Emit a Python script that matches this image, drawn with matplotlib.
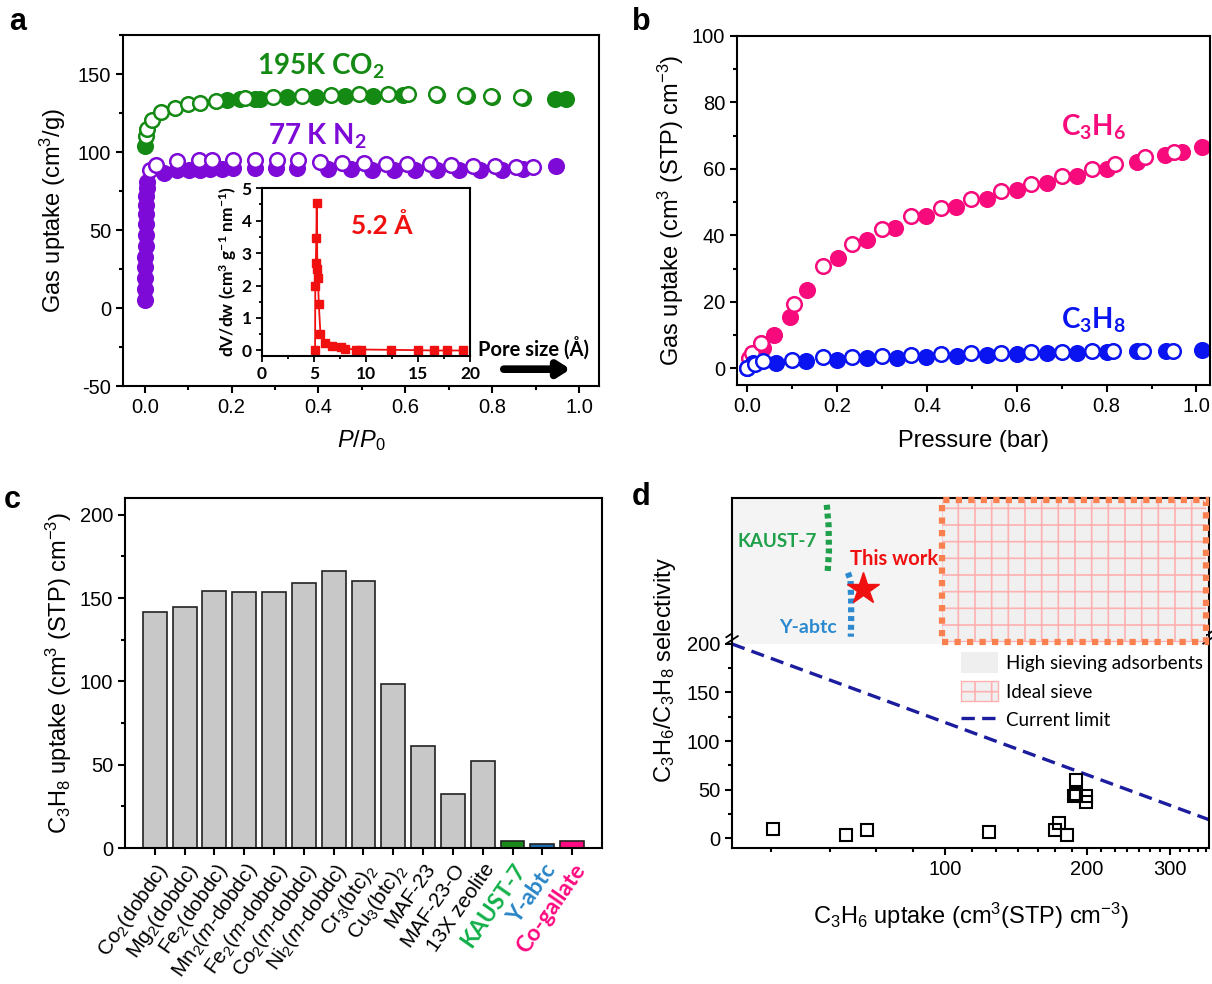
import numpy as np
import matplotlib
matplotlib.use('Agg')
import matplotlib.pyplot as plt
from matplotlib.patches import Rectangle, Patch
from matplotlib.lines import Line2D
from matplotlib.ticker import MultipleLocator, FixedLocator, NullFormatter, FixedFormatter

plt.rcParams['font.family'] = ['Liberation Sans', 'DejaVu Sans']
plt.rcParams['mathtext.fontset'] = 'custom'
plt.rcParams['mathtext.rm'] = 'Liberation Sans'
plt.rcParams['mathtext.it'] = 'Liberation Sans:italic'
plt.rcParams['mathtext.bf'] = 'Lato:bold'
plt.rcParams['axes.linewidth'] = 1.5
plt.rcParams['axes.unicode_minus'] = False
plt.rcParams['hatch.linewidth'] = 1.2
CAL = 'Lato'

# ---- panel a: 195 K CO2 / 77 K N2 isotherms ----
co2_ads_x = [0.0, 0.19, 0.219, 0.253, 0.266, 0.328, 0.395, 0.462, 0.526, 0.595,
             0.673, 0.742, 0.80, 0.871, 0.944, 0.969]
co2_ads_y = [104, 133.3, 133.7, 134, 134, 135, 135, 135.8, 136, 136.7,
             136.3, 135.8, 135.4, 134.6, 134, 134]
co2_des_x = [0.002, 0.006, 0.017, 0.037, 0.069, 0.10, 0.128, 0.164, 0.231, 0.295,
             0.362, 0.428, 0.493, 0.56, 0.607, 0.671, 0.738, 0.798, 0.867]
co2_des_y = [110, 115, 120.4, 125.8, 128, 130.5, 131.6, 132.9, 134.8, 135.4,
             136, 136.7, 137, 137.2, 137.2, 137, 136.5, 135.8, 135]
n2_ads_x = [0.0, 0.0005, 0.001, 0.0013, 0.0016, 0.002, 0.0022, 0.0025, 0.003, 0.0035,
            0.004, 0.005, 0.006, 0.044, 0.075, 0.101, 0.128, 0.15, 0.177, 0.204,
            0.253, 0.302, 0.351, 0.422, 0.475, 0.524, 0.573, 0.622, 0.673, 0.724,
            0.773, 0.822, 0.871, 0.947]
n2_ads_y = [5, 12, 19, 26, 33, 40, 47, 54, 60, 66,
            72, 77, 81, 86.8, 88.7, 88.3, 88.7, 89.4, 89.4, 89.8,
            89.8, 89.8, 89.8, 88.9, 88.9, 88.7, 88.7, 88.7, 88.7, 88.7,
            88.7, 88.3, 89.4, 91]
n2_des_x = [0.011, 0.026, 0.075, 0.124, 0.155, 0.204, 0.253, 0.304, 0.353, 0.404,
            0.455, 0.504, 0.555, 0.604, 0.656, 0.705, 0.755, 0.806, 0.855, 0.893]
n2_des_y = [88.3, 91.5, 94, 94.7, 94.7, 94.7, 94.7, 94.7, 94.7, 93.6,
            93.2, 93, 92.6, 92.6, 92.1, 91.5, 91, 90.9, 90.4, 90.4]

psd_x = [5.10, 5.12, 5.17, 5.22, 5.26, 5.32, 5.38, 5.46, 5.62, 6.05,
         6.75, 7.6, 8.0, 9.0, 9.5, 12.4, 15.0, 16.5, 17.8, 19.3]
psd_y = [0.0, 2.0, 2.68, 3.45, 4.55, 2.52, 2.22, 1.42, 0.51, 0.24,
         0.13, 0.11, 0.06, 0.03, 0.03, 0.02, 0.01, 0.0, 0.0, 0.0]

# ---- panel b: C3H6 / C3H8 isotherms ----
c3h6_ads_x = [0.034, 0.06, 0.095, 0.133, 0.202, 0.267, 0.329, 0.398, 0.464, 0.533,
              0.60, 0.667, 0.733, 0.80, 0.867, 0.931, 0.967, 1.013]
c3h6_ads_y = [6, 10, 15.5, 23.5, 33.3, 38.5, 42.3, 45.8, 48.5, 50.8,
              53.5, 55.7, 57.8, 60, 62, 64, 65, 66.5]
c3h6_des_x = [0.004, 0.011, 0.03, 0.103, 0.168, 0.232, 0.299, 0.365, 0.432, 0.499,
              0.565, 0.632, 0.701, 0.768, 0.819, 0.886, 0.95]
c3h6_des_y = [3, 4.7, 7.5, 19.5, 30.7, 37.5, 42, 45.7, 48.3, 50.9,
              53.2, 55.3, 57.7, 59.8, 61.3, 63.5, 65]
c3h8_ads_x = [0.0, 0.013, 0.064, 0.13, 0.20, 0.267, 0.333, 0.398, 0.466, 0.533,
              0.60, 0.667, 0.733, 0.80, 0.867, 0.933, 1.013]
c3h8_ads_y = [0, 1.5, 1.7, 2.3, 2.5, 3.0, 3.2, 3.5, 3.8, 4.0,
              4.3, 4.5, 4.7, 4.9, 5.1, 5.2, 5.5]
c3h8_des_x = [0.0, 0.017, 0.034, 0.10, 0.168, 0.232, 0.299, 0.365, 0.432, 0.499,
              0.565, 0.632, 0.701, 0.768, 0.815, 0.882, 0.948]
c3h8_des_y = [0.2, 1.2, 2.2, 2.5, 3.3, 3.5, 3.8, 4.0, 4.3, 4.5,
              4.7, 4.9, 5.0, 5.1, 5.2, 5.3, 5.3]

# ---- panel c: C3H8 uptake of materials ----
materials = ['Co$_2$(dobdc)', 'Mg$_2$(dobdc)', 'Fe$_2$(dobdc)', 'Mn$_2$($m$-dobdc)',
             'Fe$_2$($m$-dobdc)', 'Co$_2$($m$-dobdc)', 'Ni$_2$($m$-dobdc)',
             'Cr$_3$(btc)$_2$', 'Cu$_3$(btc)$_2$', 'MAF-23', 'MAF-23-O', '13X zeolite',
             'KAUST-7', 'Y-abtc', 'Co-gallate']
c3h8_uptake = [141.5, 144.5, 154, 153.5, 153.5, 159, 166.5, 160, 98.5, 61.5,
               32.5, 52.5, 4, 2.5, 4]
bar_colors = ['#c8c8c8'] * 12 + ['#1b8a1b', '#1f6fb2', '#ff0a80']
label_colors = ['black'] * 12 + ['#12b04a', '#2a86c8', '#ff0a80']

# ---- panel d: selectivity vs uptake ----
lit_uptake = [43.4, 61.9, 68.6, 123.8, 171, 174.3, 181, 189.8, 187.3, 189.8, 199, 199]
lit_select = [9, 3.5, 8.5, 6, 8, 15, 3.5, 60, 43, 45, 43, 37]
limit_x = [35.5, 362]
limit_y = [200, 18.9]
kaust_x = [56.3, 56.8, 56.9, 56.5]
kaust_y = [0.95, 0.80, 0.60, 0.44]
yabtc_x = [62.4, 63.2, 63.4, 63.4, 63.3]
yabtc_y = [0.45, 0.40, 0.25, 0.10, -0.02]
this_x = [67.3]
this_y = [0.33]

green = '#148a14'
purple = '#7d0ad6'
pink = '#f70a7c'
blue = '#0a14f0'

fig = plt.figure(figsize=(12.12, 9.84), dpi=100)


def style(ax):
    ax.tick_params(which='both', direction='out', top=False, right=False,
                   labelsize=14.5, width=1.5)
    ax.tick_params(which='major', length=5)
    ax.tick_params(which='minor', length=3)


# ---------------- a ----------------
axa = fig.add_axes([0.1015, 0.6077, 0.3927, 0.3567])
ms = 10.5
axa.plot(co2_ads_x, co2_ads_y, 'o', color=green, ms=ms, mec=green, mew=1.8)
axa.plot(co2_des_x, co2_des_y, 'o', mfc='white', mec=green, ms=ms, mew=1.8)
axa.plot(n2_ads_x, n2_ads_y, 'o', color=purple, ms=ms, mec=purple, mew=1.8)
axa.plot(n2_des_x, n2_des_y, 'o', mfc='white', mec=purple, ms=ms, mew=1.8)
axa.set_xlim(-0.05, 1.046)
axa.set_ylim(-50, 175)
axa.xaxis.set_major_locator(MultipleLocator(0.2))
axa.xaxis.set_minor_locator(MultipleLocator(0.1))
axa.yaxis.set_major_locator(MultipleLocator(50))
axa.yaxis.set_minor_locator(MultipleLocator(25))
style(axa)
axa.set_xlabel(r'$\mathit{P/P_0}$', fontsize=17, labelpad=8)
axa.set_ylabel('Gas uptake (cm$^3$/g)', fontsize=17, labelpad=7)
axa.text(0.405, 155, r'195K CO$_\mathbf{2}$', color=green, fontsize=20,
         fontfamily=CAL, fontweight='bold', ha='center', va='center')
axa.text(0.397, 110, r'77 K N$_\mathbf{2}$', color=purple, fontsize=20,
         fontfamily=CAL, fontweight='bold', ha='center', va='center')
axa.text(0.746, 0.108, 'Pore size (Å)', transform=axa.transAxes, fontsize=14.5,
         fontfamily=CAL, fontweight='bold', ha='left', va='center')
axa.annotate('', xy=(0.94, 0.048), xytext=(0.80, 0.048), xycoords='axes fraction',
             arrowprops=dict(arrowstyle='-|>,head_width=0.45,head_length=0.7',
                             color='black', lw=5.5, shrinkA=0, shrinkB=0))

# inset
axi = fig.add_axes([0.2162, 0.6382, 0.1716, 0.1707])
axi.plot(psd_x, psd_y, '-s', color='#f01010', ms=5.5, lw=1.3)
axi.set_xlim(0, 20)
axi.set_ylim(-0.17, 5)
axi.xaxis.set_major_locator(MultipleLocator(5))
axi.xaxis.set_minor_locator(MultipleLocator(2.5))
axi.yaxis.set_major_locator(MultipleLocator(1))
axi.yaxis.set_minor_locator(MultipleLocator(0.5))
axi.tick_params(which='both', direction='out', top=False, right=False, width=1.3)
axi.tick_params(which='major', length=4)
axi.tick_params(which='minor', length=2.5)
for lab in axi.get_xticklabels() + axi.get_yticklabels():
    lab.set_fontfamily(CAL)
    lab.set_fontweight('bold')
    lab.set_fontsize(12.5)
axi.set_ylabel(r'dV/dw (cm$^\mathbf{3}$ g$^\mathbf{-1}$ nm$^\mathbf{-1}$)',
               fontfamily=CAL, fontweight='bold', fontsize=12.5, labelpad=2)
axi.text(11.5, 3.85, '5.2 Å', color='#f01010', fontsize=19, fontfamily=CAL,
         fontweight='bold', ha='center', va='center')

# ---------------- b ----------------
axb = fig.add_axes([0.6081, 0.6087, 0.3902, 0.355])
axb.plot(c3h6_ads_x, c3h6_ads_y, 'o', color=pink, ms=ms, mec=pink, mew=1.8)
axb.plot(c3h6_des_x, c3h6_des_y, 'o', mfc='white', mec=pink, ms=ms, mew=1.8)
axb.plot(c3h8_ads_x, c3h8_ads_y, 'o', color=blue, ms=ms, mec=blue, mew=1.8)
axb.plot(c3h8_des_x, c3h8_des_y, 'o', mfc='white', mec=blue, ms=ms, mew=1.8)
axb.set_xlim(-0.023, 1.03)
axb.set_ylim(-5, 100)
axb.xaxis.set_major_locator(MultipleLocator(0.2))
axb.xaxis.set_minor_locator(MultipleLocator(0.1))
axb.yaxis.set_major_locator(MultipleLocator(20))
axb.yaxis.set_minor_locator(MultipleLocator(10))
style(axb)
axb.set_xlabel('Pressure (bar)', fontsize=17, labelpad=10)
axb.set_ylabel('Gas uptake (cm$^3$ (STP) cm$^{-3}$)', fontsize=17, labelpad=4)
axb.text(0.77, 72.5, r'C$_\mathbf{3}$H$_\mathbf{6}$', color=pink, fontsize=20,
         fontfamily=CAL, fontweight='bold', ha='center', va='center')
axb.text(0.77, 14.5, r'C$_\mathbf{3}$H$_\mathbf{8}$', color=blue, fontsize=20,
         fontfamily=CAL, fontweight='bold', ha='center', va='center')

# ---------------- c ----------------
axc = fig.add_axes([0.1031, 0.1382, 0.3936, 0.3557])
pos = np.arange(len(materials))
axc.bar(pos, c3h8_uptake, width=0.8, color=bar_colors, edgecolor='#222222', lw=1.2)
axc.set_xlim(-1, len(materials))
axc.set_ylim(0, 210)
axc.yaxis.set_major_locator(MultipleLocator(50))
axc.yaxis.set_minor_locator(MultipleLocator(25))
style(axc)
axc.set_xticks(pos)
axc.set_xticklabels(materials, rotation=55, ha='right', rotation_mode='anchor',
                    fontsize=15)
for lab, col in zip(axc.get_xticklabels(), label_colors):
    lab.set_color(col)
    if col != 'black':
        lab.set_fontfamily(CAL)
        lab.set_fontweight('bold')
        lab.set_fontsize(16.5)
axc.set_ylabel('C$_3$H$_8$ uptake (cm$^3$ (STP) cm$^{-3}$)', fontsize=17, labelpad=4)

# ---------------- d ----------------
xl = (35.5, 362)
axd = fig.add_axes([0.604, 0.1382, 0.3935, 0.2175])
axu = fig.add_axes([0.604, 0.3557, 0.3935, 0.1382])
gray_fill = '#f4f4f4'
for ax in (axd, axu):
    ax.set_xscale('log')
    ax.set_xlim(*xl)
axd.set_ylim(-10.3, 210.3)
axd.axhspan(200, 210.3, color=gray_fill, lw=0, zorder=0)
axd.plot(limit_x, limit_y, '--', color='#1c1c9e', lw=2.4, dashes=(4, 2.2))
axd.plot(lit_uptake, lit_select, 's', mfc='none', mec='black', ms=8, mew=1.5)
axd.xaxis.set_major_locator(FixedLocator([100, 200, 300]))
axd.xaxis.set_major_formatter(FixedFormatter(['100', '200', '300']))
axd.xaxis.set_minor_locator(FixedLocator([k * 100 / 7 for k in range(3, 26)]))
axd.xaxis.set_minor_formatter(NullFormatter())
axd.yaxis.set_major_locator(MultipleLocator(50))
axd.yaxis.set_minor_locator(MultipleLocator(25))
style(axd)
axd.spines['top'].set_visible(False)
axd.set_xlabel('C$_3$H$_6$ uptake (cm$^3$(STP) cm$^{-3}$)', fontsize=17, labelpad=16)

axu.set_ylim(0, 1)
axu.set_facecolor(gray_fill)
axu.spines['bottom'].set_visible(False)
axu.tick_params(which='both', bottom=False, left=False, labelbottom=False, labelleft=False)
axu.add_patch(Rectangle((98.7, -0.056), 356.6 - 98.7, 1.041, facecolor='#f0f0f0',
                        edgecolor='#ffb0b0', hatch='+', lw=0, clip_on=False, zorder=2))
axu.add_patch(Rectangle((98.7, -0.056), 356.6 - 98.7, 1.041, fill=False,
                        edgecolor='#fa8050', lw=4.5, linestyle=(0, (1, 1)),
                        clip_on=False, zorder=3))
axu.plot(kaust_x, kaust_y, color='#1fa04a', lw=4.5, linestyle=(0, (0.8, 0.6)),
         clip_on=False)
axu.plot(yabtc_x, yabtc_y, color='#2d8ad0', lw=4.5, linestyle=(0, (0.8, 0.6)),
         clip_on=False)
axu.plot(this_x, this_y, '*', color='#f01010', ms=24, clip_on=False)
axu.text(53.7, 0.68, 'KAUST-7', color='#1fa04a', fontsize=13.5, fontfamily=CAL,
         fontweight='bold', ha='right', va='center')
axu.text(78.3, 0.55, 'This work', color='#f01010', fontsize=14.5, fontfamily=CAL,
         fontweight='bold', ha='center', va='center')
axu.text(59.2, 0.05, 'Y-abtc', color='#2d8ad0', fontsize=14, fontfamily=CAL,
         fontweight='bold', ha='right', va='center')

# break marks on the y axis
for xa in (0, 1):
    axd.plot([xa - 0.012, xa + 0.012], [0.985, 1.02], color='black', lw=1.3,
             transform=axd.transAxes, clip_on=False, zorder=5)
    axd.plot([xa - 0.012, xa + 0.012], [0.955, 0.99], color='black', lw=1.3,
             transform=axd.transAxes, clip_on=False, zorder=5)

handles = [Patch(facecolor='#efefef', edgecolor='none', label='High sieving adsorbents'),
           Patch(facecolor='#f0f0f0', edgecolor='#ffb0b0', hatch='+', label='Ideal sieve'),
           Line2D([], [], color='#1c1c9e', ls='--', lw=2.4, dashes=(4, 2.2),
                  label='Current limit')]
axd.legend(handles=handles, loc='upper left', bbox_to_anchor=(0.48, 0.915),
           frameon=False, prop={'family': CAL, 'size': 13.5}, handlelength=2.0,
           handleheight=1.3, labelspacing=0.45, handletextpad=0.4, borderaxespad=0,
           borderpad=0)

fig.text(665 / 1212, 1 - 670 / 984, 'C$_3$H$_6$/C$_3$H$_8$ selectivity', fontsize=17,
         rotation=90, ha='center', va='center')

# panel letters
for lt, x, y in [('a', 18, 22), ('b', 641, 22), ('c', 12, 500), ('d', 641, 497)]:
    fig.text(x / 1212, 1 - y / 984, lt, fontsize=22, fontweight='bold',
             ha='center', va='center')

fig.savefig('out.png', dpi=100)
